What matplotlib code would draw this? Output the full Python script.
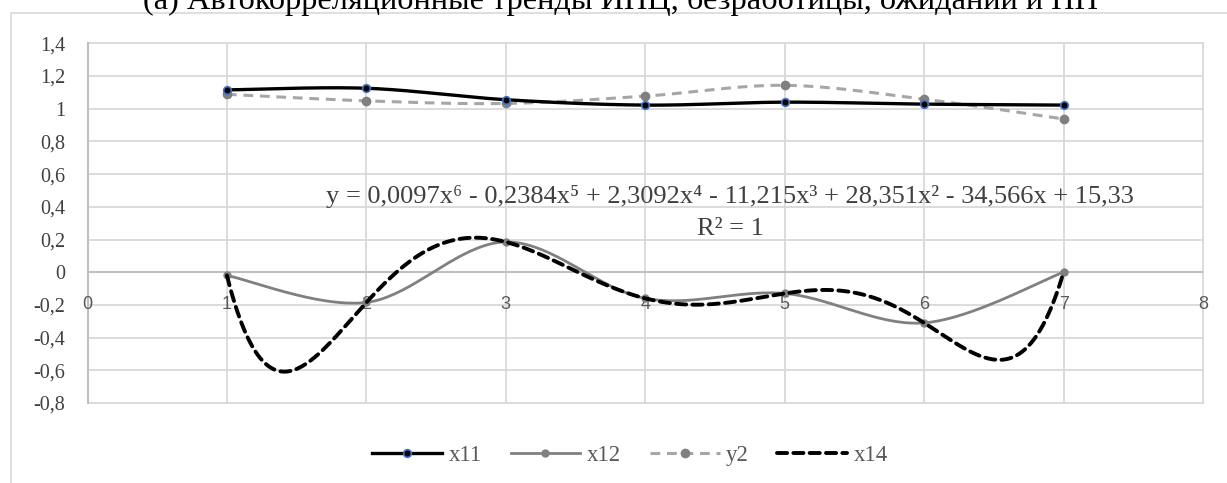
import numpy as np
import matplotlib
matplotlib.use("Agg")
import matplotlib.pyplot as plt
from matplotlib.patches import Rectangle
from matplotlib.lines import Line2D

# ---- data ----
xs = [1, 2, 3, 4, 5, 6, 7]
x11 = [1.115, 1.125, 1.055, 1.022, 1.040, 1.028, 1.022]
x12 = [-0.02, -0.185, 0.185, -0.16, -0.13, -0.31, 0.0]
y2 = [1.088, 1.048, 1.032, 1.077, 1.143, 1.058, 0.937]
trend_degree = 6
yticks = [1.4, 1.2, 1.0, 0.8, 0.6, 0.4, 0.2, 0.0, -0.2, -0.4, -0.6, -0.8]
xticks = [0, 1, 2, 3, 4, 5, 6, 7, 8]
title = "(a) Автокорреляционные тренды ИПЦ, безработицы, ожиданий и ПП"
eq_text = "y = 0,0097x⁶ - 0,2384x⁵ + 2,3092x⁴ - 11,215x³ + 28,351x² - 34,566x + 15,33"
r2_text = "R² = 1"
labels = ["x11", "x12", "y2", "x14"]

SERIF = ["Liberation Serif", "DejaVu Serif"]
SANS = ["Liberation Sans", "DejaVu Sans"]


def excel_smooth(x, y, n=40):
    x = np.asarray(x, float)
    y = np.asarray(y, float)
    P = np.column_stack([x, y])
    Pe = np.vstack([P[0], P, P[-1]])
    out = []
    for i in range(len(P) - 1):
        p0, p1, p2, p3 = Pe[i], Pe[i + 1], Pe[i + 2], Pe[i + 3]
        c1 = p1 + (p2 - p0) / 6.0
        c2 = p2 - (p3 - p1) / 6.0
        t = np.linspace(0, 1, n)[:, None]
        seg = ((1 - t) ** 3) * p1 + 3 * ((1 - t) ** 2) * t * c1 + 3 * (1 - t) * t ** 2 * c2 + t ** 3 * p2
        out.append(seg if i == 0 else seg[1:])
    s = np.vstack(out)
    return s[:, 0], s[:, 1]


W, H = 1227, 483
fig = plt.figure(figsize=(W / 100, H / 100), dpi=100)

# chart area border
fig.patches.append(Rectangle((11 / W, -0.1), 1.2, 1 - 13 / H + 0.1, transform=fig.transFigure,
                             fill=False, edgecolor="#D9D9D9", linewidth=1.2))

fig.text(621 / W, 1 - 9.5 / H, title, ha="center", va="baseline", fontsize=23.3,
         family=SERIF, color="#000000")

left, right, top, bottom = 87.5, 1203, 43.3, 403
ax = fig.add_axes([left / W, 1 - bottom / H, (right - left) / W, (bottom - top) / H])
ax.set_xlim(0, 8)
ax.set_ylim(-0.8, 1.4)

for v in yticks:
    ax.axhline(v, color="#D9D9D9", lw=1.3, zorder=0, clip_on=False)
for v in xticks:
    ax.axvline(v, color="#D9D9D9", lw=1.3, zorder=0, clip_on=False)
ax.axhline(0, color="#BFBFBF", lw=1.5, zorder=0.5)
ax.axvline(0, color="#BFBFBF", lw=1.5, zorder=0.5, clip_on=False)

for s in ax.spines.values():
    s.set_visible(False)

ax.set_yticks(yticks)
ax.set_yticklabels([("%g" % v).replace(".", ",") if v != 0 else "0" for v in yticks],
                   family=SERIF, fontsize=14.5, color="#404040")
ax.tick_params(axis="y", length=0, pad=16)
ax.set_xticks([])
for v in xticks:
    ax.annotate(str(v), xy=(v, 0), xytext=(0, -23), textcoords="offset points",
                ha="center", va="center", fontsize=13, family=SANS, color="#595959")

# series
sx, sy = excel_smooth(xs, x11)
ax.plot(sx, sy, color="black", lw=2.4, zorder=4, solid_capstyle="round")
ax.plot(xs, x11, ls="none", marker="o", ms=5.5, mfc="black", mec="#4472C4", mew=1.2, zorder=5)

sx, sy = excel_smooth(xs, x12)
ax.plot(sx, sy, color="#808080", lw=2.0, zorder=3, solid_capstyle="round")
ax.plot(xs, x12, ls="none", marker="o", ms=5, mfc="#808080", mec="#808080", zorder=3)

sx, sy = excel_smooth(xs, y2)
ax.plot(sx, sy, color="#A6A6A6", lw=2.2, ls=(0, (3.2, 2.2)), zorder=3)
ax.plot(xs, y2, ls="none", marker="o", ms=6, mfc="#808080", mec="#808080", zorder=3)

coefs = np.polyfit(xs, x12, trend_degree)
tx = np.linspace(xs[0], xs[-1], 400)
ax.plot(tx, np.polyval(coefs, tx), color="black", lw=2.8, ls=(0, (2.6, 1.6)),
        dash_capstyle="round", zorder=4)

ax.text(4.61, 0.462, eq_text, ha="center", va="center", fontsize=19,
        family=SERIF, color="#404040")
ax.text(4.61, 0.266, r2_text, ha="center", va="center", fontsize=19,
        family=SERIF, color="#404040")

handles = [
    Line2D([], [], color="black", lw=2.4, marker="o", ms=5.5, mfc="black", mec="#4472C4", mew=1.2),
    Line2D([], [], color="#808080", lw=2.0, marker="o", ms=5, mfc="#808080", mec="#808080"),
    Line2D([], [], color="#A6A6A6", lw=2.2, ls=(0, (3.2, 2.2)), marker="o", ms=6, mfc="#808080", mec="#808080"),
    Line2D([], [], color="black", lw=2.8, ls=(0, (2.6, 1.6)), dash_capstyle="round"),
]
leg = fig.legend(handles, labels, loc="center", bbox_to_anchor=(630 / W, 1 - 455 / H), ncol=4,
                 frameon=False, prop={"family": SERIF, "size": 16.5}, handlelength=3.05,
                 columnspacing=1.27, handletextpad=0.26, labelcolor="#595959")

fig.savefig("out.png", dpi=100)
